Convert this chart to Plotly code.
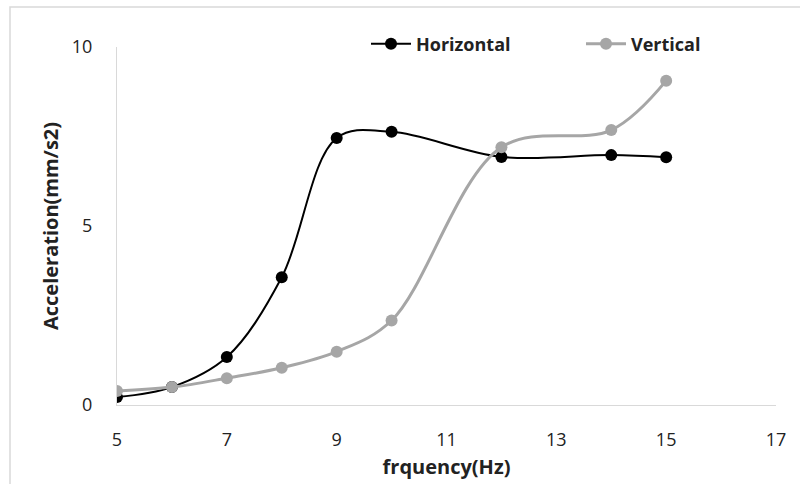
import plotly.graph_objects as go

freq = [5, 6, 7, 8, 9, 10, 12, 14, 15]
horizontal = [0.22, 0.5, 1.34, 3.57, 7.46, 7.63, 6.93, 6.98, 6.92]
vertical = [0.39, 0.5, 0.75, 1.04, 1.49, 2.36, 7.2, 7.68, 9.06]
x_ticks = [5, 7, 9, 11, 13, 15, 17]
y_ticks = [0, 5, 10]

TXT = "#222222"
GRAY = "#a6a6a6"
FONT = "Open Sans"

fig = go.Figure()
fig.add_trace(go.Scatter(
    x=freq, y=horizontal, name="Horizontal", mode="lines+markers",
    line=dict(color="black", width=2, shape="spline", smoothing=1.0),
    marker=dict(color="black", size=12),
    legend="legend",
))
fig.add_trace(go.Scatter(
    x=freq, y=vertical, name="Vertical", mode="lines+markers",
    line=dict(color=GRAY, width=3, shape="spline", smoothing=1.0),
    marker=dict(color=GRAY, size=12),
    legend="legend2",
))

W, L, R, T, B = 800, 117, 24, 47, 79
pw = W - L - R
ph = 484 - T - B

legend_common = dict(
    orientation="h", yanchor="middle", y=(405 - 44) / ph,
    xanchor="left", itemwidth=40,
    font=dict(size=18, color=TXT, family=FONT, weight="bold"),
    bgcolor="rgba(0,0,0,0)",
)

fig.update_layout(
    width=W, height=484,
    margin=dict(l=L, r=R, t=T, b=B, autoexpand=False),
    plot_bgcolor="white", paper_bgcolor="white",
    font=dict(family=FONT, size=18, color=TXT),
    showlegend=True,
    legend=dict(legend_common, x=(366 - L) / pw),
    legend2=dict(legend_common, x=(581 - L) / pw),
    xaxis=dict(
        range=[5, 17], tickvals=x_ticks, showgrid=False, zeroline=False,
        showline=True, linecolor="#d9d9d9", linewidth=1,
        ticks="", ticklabelstandoff=18, automargin=False,
        tickfont=dict(size=18, color=TXT),
        title=dict(text="frquency(Hz)", font=dict(size=20, weight="bold", color=TXT), standoff=10),
    ),
    yaxis=dict(
        range=[0, 10], tickvals=y_ticks, showgrid=False, zeroline=False,
        showline=True, linecolor="#d9d9d9", linewidth=1,
        ticks="", ticklabelstandoff=20, automargin=False,
        tickfont=dict(size=18, color=TXT),
        title=dict(text="Acceleration(mm/s2)", font=dict(size=20, weight="bold", color=TXT), standoff=7),
    ),
    shapes=[dict(type="rect", xref="paper", yref="paper",
                 x0=(10 - L) / pw, x1=1.5, y0=-0.5, y1=(405 - 7) / ph,
                 line=dict(color="#d9d9d9", width=1.5), fillcolor="rgba(0,0,0,0)", layer="below")],
)

fig.write_html("out.html", config={"displayModeBar": False},
               post_script="document.body.style.margin='0';")
